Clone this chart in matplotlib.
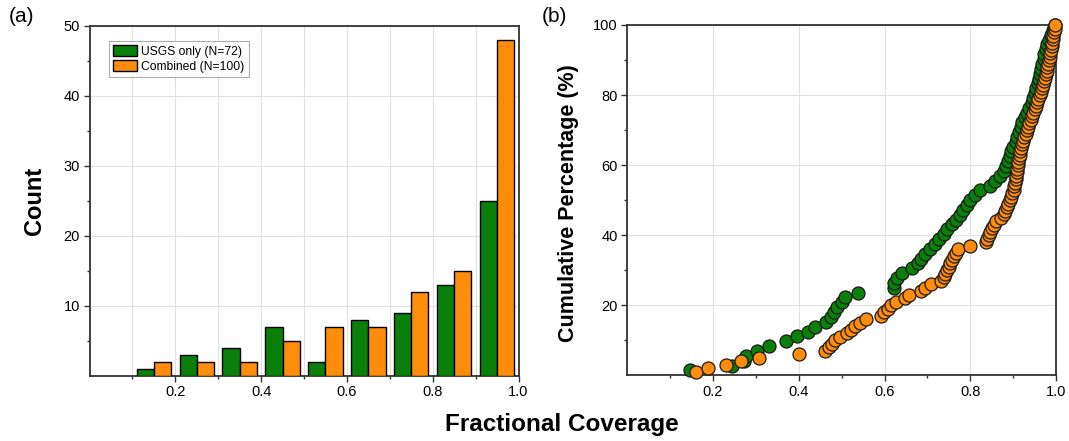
import matplotlib
matplotlib.use("Agg")
import matplotlib.pyplot as plt
from matplotlib.ticker import FixedLocator
import numpy as np

plt.rcParams['font.family'] = ['Liberation Sans', 'DejaVu Sans']

# ---------------- data ----------------
bin_starts = [0.1, 0.2, 0.3, 0.4, 0.5, 0.6, 0.7, 0.8, 0.9]
usgs_counts = [1, 3, 4, 7, 2, 8, 9, 13, 25]
combined_counts = [2, 2, 2, 5, 7, 7, 12, 15, 48]
labels = ["USGS only (N=72)", "Combined (N=100)"]

# sorted fractional coverage values (cumulative plot, y = rank / N * 100)
usgs_cov = [0.146, 0.245, 0.272, 0.276, 0.302, 0.331, 0.371, 0.395, 0.422, 0.438,
            0.463, 0.474, 0.482, 0.489, 0.500, 0.507, 0.537,
            0.621, 0.622, 0.628, 0.641, 0.665, 0.678, 0.686, 0.694,
            0.706, 0.717, 0.728, 0.739, 0.746, 0.758, 0.767, 0.775, 0.784,
            0.793, 0.800, 0.810, 0.822, 0.846, 0.858, 0.870, 0.878, 0.884,
            0.889, 0.893, 0.896, 0.899,
            0.906, 0.910, 0.914, 0.918, 0.921, 0.928, 0.933, 0.938, 0.943,
            0.947, 0.950, 0.954, 0.957, 0.960, 0.963, 0.966, 0.968, 0.971,
            0.973, 0.976, 0.980, 0.984, 0.988, 0.993, 0.997]
combined_cov = [0.160, 0.188, 0.230, 0.265, 0.307, 0.400, 0.460, 0.470, 0.477, 0.484,
                0.495, 0.513, 0.521, 0.530, 0.543, 0.556, 0.591, 0.599,
                0.607, 0.616, 0.626, 0.648, 0.658, 0.684, 0.694,
                0.708, 0.731, 0.738, 0.742, 0.746, 0.750, 0.753, 0.757, 0.762,
                0.767, 0.771, 0.799,
                0.837, 0.840, 0.843, 0.847, 0.851, 0.855, 0.860, 0.872, 0.878,
                0.882, 0.886, 0.889, 0.892, 0.895, 0.898,
                0.901, 0.903, 0.905, 0.906, 0.907, 0.908, 0.909, 0.911, 0.912,
                0.914, 0.915, 0.917, 0.919, 0.921, 0.923, 0.926, 0.929, 0.932,
                0.935, 0.938, 0.941, 0.944, 0.947, 0.950, 0.953, 0.956, 0.959,
                0.962, 0.965, 0.968, 0.970, 0.972, 0.974, 0.976, 0.978, 0.980,
                0.982, 0.983, 0.985, 0.987, 0.988, 0.990, 0.991, 0.993, 0.994,
                0.995, 0.997, 0.998]

GREEN = '#0a7f0a'
ORANGE = '#ff8c0a'
SPINE = '#333333'
GRID = '#e2e2e2'

fig = plt.figure(figsize=(10.69, 4.41), dpi=100)
W, H = 1069, 441

def ax_rect(l, t, r, b):
    return [l / W, 1 - b / H, (r - l) / W, (b - t) / H]

axA = fig.add_axes(ax_rect(89.5, 26, 518.5, 375.7))
axB = fig.add_axes(ax_rect(627.3, 25, 1056, 375.3))

def style(ax):
    for s in ax.spines.values():
        s.set_color(SPINE)
        s.set_linewidth(1.3)
    ax.tick_params(which='major', direction='out', length=4, width=1,
                   color=SPINE, labelsize=10.5, pad=3)
    ax.tick_params(which='minor', direction='out', length=2.5, width=1,
                   color=SPINE)
    ax.set_axisbelow(True)

# ---------------- panel (a) ----------------
bs = np.array(bin_starts)
axA.bar(bs + 0.03, usgs_counts, width=0.04, color=GREEN, edgecolor='black',
        linewidth=1.0, label=labels[0], zorder=3)
axA.bar(bs + 0.07, combined_counts, width=0.04, color=ORANGE, edgecolor='black',
        linewidth=1.0, label=labels[1], zorder=3)
axA.set_xlim(0, 1.0)
axA.set_ylim(0, 50)
axA.xaxis.set_major_locator(FixedLocator([0.2, 0.4, 0.6, 0.8, 1.0]))
axA.xaxis.set_minor_locator(FixedLocator([0.1, 0.3, 0.5, 0.7, 0.9]))
axA.yaxis.set_major_locator(FixedLocator([10, 20, 30, 40, 50]))
axA.yaxis.set_minor_locator(FixedLocator([5, 15, 25, 35, 45]))
axA.set_xticklabels(['0.2', '0.4', '0.6', '0.8', '1.0'])
axA.set_yticklabels(['10', '20', '30', '40', '50'])
axA.grid(True, which='both', axis='x', color=GRID, linewidth=0.8)
axA.grid(True, which='major', axis='y', color=GRID, linewidth=0.8)
style(axA)
leg = axA.legend(loc='upper left', bbox_to_anchor=(0.045, 0.958), fontsize=8.7,
                 frameon=True, fancybox=False, edgecolor='#999999',
                 handlelength=2.0, handleheight=1.05, labelspacing=0.2,
                 borderpad=0.35, handletextpad=0.35, borderaxespad=0)
leg.get_frame().set_linewidth(0.8)

# ---------------- panel (b) ----------------
ug = np.array(usgs_cov)
cg = np.array(combined_cov)
usgs_pct = np.arange(1, len(ug) + 1) / len(ug) * 100
comb_pct = np.arange(1, len(cg) + 1) / len(cg) * 100
axB.scatter(ug, usgs_pct, s=88, color=GREEN, edgecolor='#1a1a1a',
            linewidth=0.9, zorder=3, clip_on=False)
axB.scatter(cg, comb_pct, s=88, color=ORANGE, edgecolor='#1a1a1a',
            linewidth=0.9, zorder=4, clip_on=False)
axB.set_xlim(0, 1.0)
axB.set_ylim(0, 100)
axB.xaxis.set_major_locator(FixedLocator([0.2, 0.4, 0.6, 0.8, 1.0]))
axB.xaxis.set_minor_locator(FixedLocator([0.1, 0.3, 0.5, 0.7, 0.9]))
axB.yaxis.set_major_locator(FixedLocator([20, 40, 60, 80, 100]))
axB.yaxis.set_minor_locator(FixedLocator([10, 30, 50, 70, 90]))
axB.set_xticklabels(['0.2', '0.4', '0.6', '0.8', '1.0'])
axB.set_yticklabels(['20', '40', '60', '80', '100'])
axB.grid(True, which='major', color=GRID, linewidth=0.8)
style(axB)

# ---------------- labels ----------------
fig.text(34 / W, 1 - 201 / H, 'Count', rotation=90, ha='center', va='center',
         fontsize=17, fontweight='bold')
fig.text(569 / W, 1 - 203 / H, 'Cumulative Percentage (%)', rotation=90,
         ha='center', va='center', fontsize=15.5, fontweight='bold')
fig.text(562 / W, 1 - 424 / H, 'Fractional Coverage', ha='center', va='center',
         fontsize=17.5, fontweight='bold')
fig.text(22 / W, 1 - 16 / H, '(a)', ha='center', va='center', fontsize=15)
fig.text(554 / W, 1 - 16 / H, '(b)', ha='center', va='center', fontsize=15)

fig.savefig('out.png', dpi=100)
